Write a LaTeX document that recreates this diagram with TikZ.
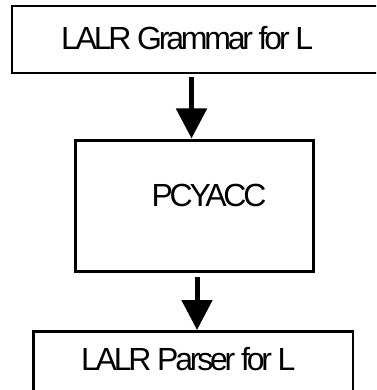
\documentclass[tikz,border=0pt]{standalone}
\usepackage{fontspec}
\setmainfont{Liberation Sans}
\newfontfamily\tightfont[LetterSpace=-10]{Liberation Sans}
\usetikzlibrary{arrows.meta}
\tikzset{
  boxnode/.style={draw=black, line width=2.5pt, inner sep=0pt, outer sep=0pt, fill=none},
  lbl/.style={inner sep=0pt, outer sep=0pt, anchor=base west, font=\tightfont\fontsize{32}{38}\selectfont},
  arr/.style={draw=black, line width=5pt, -{Triangle[width=30pt,length=30pt]}}
}
\begin{document}
\begin{tikzpicture}[x=1pt,y=-1pt]
\clip (0,0) rectangle (376,390);
\fill[white] (0,0) rectangle (376,390);
\node[boxnode, minimum width=400pt, minimum height=67pt] (topbox) at (212,39.5) {};
\node[boxnode, minimum width=238.4pt, minimum height=131.2pt] (midbox) at (194.5,205.9) {};
\node[boxnode, minimum width=319.5pt, minimum height=88.5pt] (botbox) at (193.25,375.75) {};
\node[lbl] (toptext) at (61,50) {LALR Grammar for L};
\node[lbl] (midtext) at (151.5,206.7) {PCYACC};
\node[lbl] (bottext) at (81,370) {LALR Parser for L};
\draw[arr] ([xshift=-3pt,yshift=-4pt]midbox.north |- topbox.south) -- ([xshift=-3pt,yshift=1.8pt]midbox.north);
\draw[arr] ([xshift=2.5pt,yshift=-5.8pt]midbox.south) -- ([xshift=2.5pt,yshift=1.5pt]botbox.north -| midbox.south);
\end{tikzpicture}
\end{document}
